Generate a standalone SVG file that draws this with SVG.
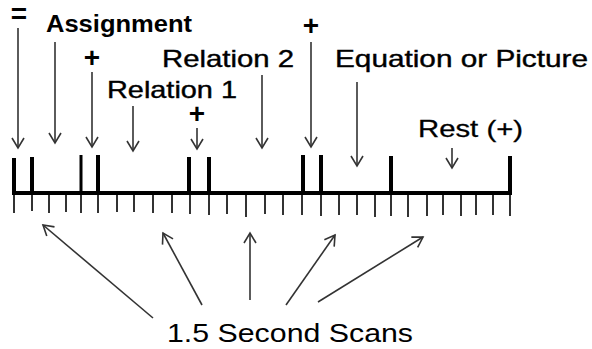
<svg xmlns="http://www.w3.org/2000/svg" width="592" height="349" viewBox="0 0 592 349">
<style>
.t{font-family:"Liberation Sans",Arial,sans-serif;fill:#000}
.b{font-weight:bold}
.ar{stroke:#333;stroke-width:1.6;fill:none;marker-end:url(#ah)}
.tick{stroke:#333;stroke-width:2}
.bar{stroke:#000;stroke-width:4}
</style>
<defs>
<marker id="ah" markerUnits="userSpaceOnUse" markerWidth="20" markerHeight="20" refX="0" refY="0" viewBox="-12 -10 14 20" orient="auto">
<path d="M-10,-6 L0,0 L-10,6" fill="none" stroke="#333" stroke-width="1.6"/>
</marker>
</defs>
<rect width="592" height="349" fill="#fff"/>
<g id="timeline">
<line x1="12" y1="193" x2="512" y2="193" class="bar"/>
<line x1="14" y1="158" x2="14" y2="193" class="bar"/>
<line x1="32" y1="157" x2="32" y2="193" class="bar"/>
<line x1="81" y1="155" x2="81" y2="193" stroke="#000" stroke-width="3"/>
<line x1="98" y1="155" x2="98" y2="193" class="bar"/>
<line x1="189" y1="157" x2="189" y2="193" class="bar"/>
<line x1="209" y1="157" x2="209" y2="193" class="bar"/>
<line x1="303" y1="155" x2="303" y2="193" class="bar"/>
<line x1="321" y1="155" x2="321" y2="193" class="bar"/>
<line x1="391" y1="156" x2="391" y2="193" class="bar"/>
<line x1="510" y1="156" x2="510" y2="193" class="bar"/>
<g class="tick">
<line x1="14" y1="195" x2="14" y2="213"/>
<line x1="32" y1="195" x2="32" y2="211"/>
<line x1="49" y1="195" x2="49" y2="213"/>
<line x1="66" y1="195" x2="66" y2="212"/>
<line x1="81" y1="195" x2="81" y2="213"/>
<line x1="98" y1="195" x2="98" y2="213"/>
<line x1="117" y1="195" x2="117" y2="212"/>
<line x1="134" y1="195" x2="134" y2="212"/>
<line x1="153" y1="195" x2="153" y2="213"/>
<line x1="172" y1="195" x2="172" y2="213"/>
<line x1="190" y1="195" x2="190" y2="214"/>
<line x1="209" y1="195" x2="209" y2="215"/>
<line x1="227" y1="195" x2="227" y2="214"/>
<line x1="246" y1="195" x2="246" y2="217"/>
<line x1="265" y1="195" x2="265" y2="214"/>
<line x1="283" y1="195" x2="283" y2="215"/>
<line x1="302" y1="195" x2="302" y2="215"/>
<line x1="321" y1="195" x2="321" y2="216"/>
<line x1="339" y1="195" x2="339" y2="215"/>
<line x1="357" y1="195" x2="357" y2="215"/>
<line x1="375" y1="195" x2="375" y2="217"/>
<line x1="391" y1="195" x2="391" y2="216"/>
<line x1="408" y1="195" x2="408" y2="217"/>
<line x1="427" y1="195" x2="427" y2="216"/>
<line x1="443" y1="195" x2="443" y2="215"/>
<line x1="461" y1="195" x2="461" y2="216"/>
<line x1="476" y1="195" x2="476" y2="215"/>
<line x1="493" y1="195" x2="493" y2="215"/>
<line x1="510" y1="195" x2="510" y2="216"/>
</g>
</g>
<g id="labels">
<text class="t b" x="19" y="23" font-size="28" text-anchor="middle">=</text>
<text class="t b" x="46" y="32" font-size="23" textLength="146" lengthAdjust="spacingAndGlyphs">Assignment</text>
<text class="t b" x="92" y="67" font-size="28" text-anchor="middle">+</text>
<text class="t" x="162" y="67" font-size="24" textLength="132" lengthAdjust="spacingAndGlyphs" style="stroke:#000;stroke-width:0.4">Relation 2</text>
<text class="t" x="107" y="98" font-size="24" textLength="130" lengthAdjust="spacingAndGlyphs" style="stroke:#000;stroke-width:0.4">Relation 1</text>
<text class="t b" x="197" y="123" font-size="28" text-anchor="middle">+</text>
<text class="t b" x="311" y="35" font-size="28" text-anchor="middle">+</text>
<text class="t" x="335" y="67" font-size="24" textLength="253" lengthAdjust="spacingAndGlyphs" style="stroke:#000;stroke-width:0.4">Equation or Picture</text>
<text class="t" x="418" y="137" font-size="24" textLength="105" lengthAdjust="spacingAndGlyphs" style="stroke:#000;stroke-width:0.3">Rest (+)</text>
<text class="t" x="167" y="342" font-size="25" textLength="246" lengthAdjust="spacingAndGlyphs">1.5 Second Scans</text>
</g>
<g id="connectors">
<line class="ar" x1="18" y1="28" x2="18" y2="148"/>
<line class="ar" x1="55" y1="42" x2="55" y2="143"/>
<line class="ar" x1="92" y1="72" x2="92" y2="147"/>
<line class="ar" x1="133" y1="106" x2="133" y2="151"/>
<line class="ar" x1="197" y1="128" x2="197" y2="149"/>
<line class="ar" x1="262" y1="75" x2="262" y2="148"/>
<line class="ar" x1="311" y1="42" x2="311" y2="147"/>
<line class="ar" x1="357" y1="82" x2="357" y2="166"/>
<line class="ar" x1="452" y1="148" x2="452" y2="168"/>
<line class="ar" x1="153" y1="318" x2="43" y2="225"/>
<line class="ar" x1="202" y1="305" x2="163" y2="233"/>
<line class="ar" x1="250" y1="300" x2="250" y2="233"/>
<line class="ar" x1="286" y1="305" x2="335" y2="235"/>
<line class="ar" x1="318" y1="302" x2="423" y2="237"/>
</g>
</svg>
